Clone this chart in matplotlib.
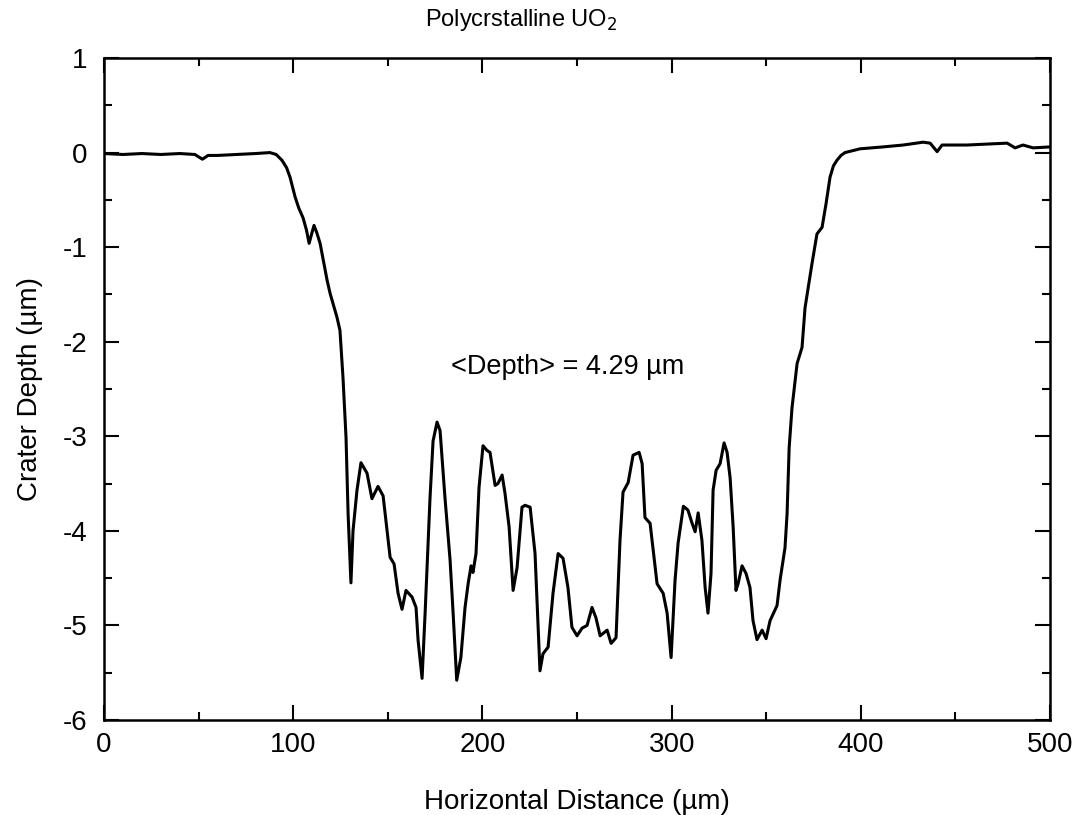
import numpy as np
import matplotlib
matplotlib.use('Agg')
import matplotlib.pyplot as plt
from matplotlib.ticker import MultipleLocator

plt.rcParams['font.family'] = ['Liberation Sans', 'DejaVu Sans']
plt.rcParams['axes.unicode_minus'] = False

# Profile (x in um, depth in um)
distance = [0, 10, 20, 30, 40, 48, 52, 55, 60, 70, 80, 87.7, 91,
            94, 96.5, 98.3, 101, 103, 105.2, 107, 108.4, 110, 111, 112.5,
            114.2, 117.9, 119.5, 123.1, 124.7, 126.3, 127.9, 129, 130.5,
            131.6, 133.7, 135.8, 139, 141.6, 144.8, 147.5, 149.6, 151.2,
            153.3, 155.4, 157.5, 159.6, 162.8, 164.9, 166, 168.1, 169.7,
            172.3, 173.9, 176, 177.6, 180.2, 182.9, 184.5, 186.4, 188.6,
            190.8, 192.5, 194, 195, 196.6, 198.2, 200.3, 202.4, 204, 206.7,
            208.2, 210.4, 211.9, 214.1, 216.2, 218.3, 220.9, 222.5, 225.2,
            227.8, 230.4, 232, 234.7, 237.3, 240, 242.6, 245.2, 247.3, 250,
            252.6, 255.3, 257.9, 260, 262.2, 265.9, 268, 270.6, 272.7, 274.3,
            277, 279.6, 282.8, 284.4, 285.9, 288.6, 292.3, 295.5, 297.6,
            299.7, 301.8, 303.4, 306.2, 308.6, 310.8, 312.4, 314, 316, 317.7,
            319.2, 320.8, 321.9, 323.5, 325.6, 327.7, 329.3, 330.9, 332.5,
            334, 335.1, 337.2, 339.3, 341.4, 343, 345.1, 347.8, 349.9, 352,
            355.7, 357.3, 359.9, 361, 362.1, 363.6, 366.3, 368.9, 370.5,
            374.2, 376.8, 379.5, 381.6, 383.7, 385.5, 387.4, 389.5, 391.6,
            399.6, 411.7, 422.3, 432.9, 436.6, 440.3, 442.9, 456.1, 477.3,
            481.5, 485.7, 491, 500]
depth = [-0.01, -0.02, -0.01, -0.02, -0.01, -0.02, -0.07, -0.03, -0.03,
         -0.02, -0.01, 0.0, -0.02,
         -0.08, -0.16, -0.26, -0.47, -0.59, -0.69, -0.82, -0.96, -0.84,
         -0.77, -0.85, -0.96, -1.35, -1.49, -1.74, -1.88, -2.38, -3.01,
         -3.82, -4.55, -4.0, -3.57, -3.28, -3.39, -3.66, -3.53, -3.63,
         -4.0, -4.28, -4.35, -4.66, -4.83, -4.63, -4.70, -4.81, -5.16,
         -5.56, -4.87, -3.65, -3.05, -2.85, -2.94, -3.65, -4.31, -4.87,
         -5.58, -5.34, -4.81, -4.55, -4.37, -4.44, -4.24, -3.54, -3.10,
         -3.15, -3.17, -3.52, -3.5, -3.41, -3.6, -3.96, -4.63, -4.39,
         -3.75, -3.73, -3.75, -4.24, -5.48, -5.30, -5.23, -4.66, -4.24,
         -4.29, -4.6, -5.02, -5.11, -5.03, -5.0, -4.81, -4.92, -5.11,
         -5.05, -5.19, -5.13, -4.10, -3.59, -3.49, -3.20, -3.17, -3.29,
         -3.86, -3.92, -4.56, -4.66, -4.87, -5.34, -4.52, -4.13, -3.74,
         -3.78, -3.92, -4.01, -3.81, -4.1, -4.6, -4.87, -4.45, -3.57,
         -3.36, -3.29, -3.07, -3.17, -3.44, -3.96, -4.63, -4.56, -4.37,
         -4.45, -4.6, -4.95, -5.15, -5.05, -5.14, -4.95, -4.79, -4.52,
         -4.18, -3.82, -3.12, -2.70, -2.23, -2.06, -1.64, -1.17, -0.86,
         -0.79, -0.54, -0.26, -0.14, -0.08, -0.03, 0.0, 0.04, 0.06, 0.08,
         0.11, 0.10, 0.01, 0.08, 0.08, 0.10, 0.05, 0.08, 0.05, 0.06]

title = 'Polycrstalline UO$_2$'
xlabel = 'Horizontal Distance (\u00b5m)'
ylabel = 'Crater Depth (\u00b5m)'
note = '<Depth> = 4.29 \u00b5m'

fig = plt.figure(figsize=(10.79, 8.15), dpi=100)
ax = fig.add_axes([0.0964, 0.1166, 0.8768, 0.8122])

ax.plot(distance, depth, color='black', lw=2.2)

ax.set_xlim(0, 500)
ax.set_ylim(-6, 1)
ax.xaxis.set_major_locator(MultipleLocator(100))
ax.xaxis.set_minor_locator(MultipleLocator(50))
ax.yaxis.set_major_locator(MultipleLocator(1))
ax.yaxis.set_minor_locator(MultipleLocator(0.5))
ax.tick_params(which='both', direction='in', top=True, right=True,
               labelsize=20, width=1.5)
ax.tick_params(which='major', length=11)
ax.tick_params(axis='x', which='major', pad=9)
ax.tick_params(axis='y', which='major', pad=12)
ax.tick_params(which='minor', length=6)
for s in ax.spines.values():
    s.set_linewidth(1.8)

ax.set_xlabel(xlabel, fontsize=20, labelpad=22)
ax.set_ylabel(ylabel, fontsize=20, labelpad=14)
# title sits a little left of the axes centre in the original
fig.text(0.483, 0.975, title, fontsize=17, ha='center', va='center')
ax.text(245, -2.27, note, fontsize=19.5, ha='center', va='center')

fig.savefig('out.png', dpi=100)
